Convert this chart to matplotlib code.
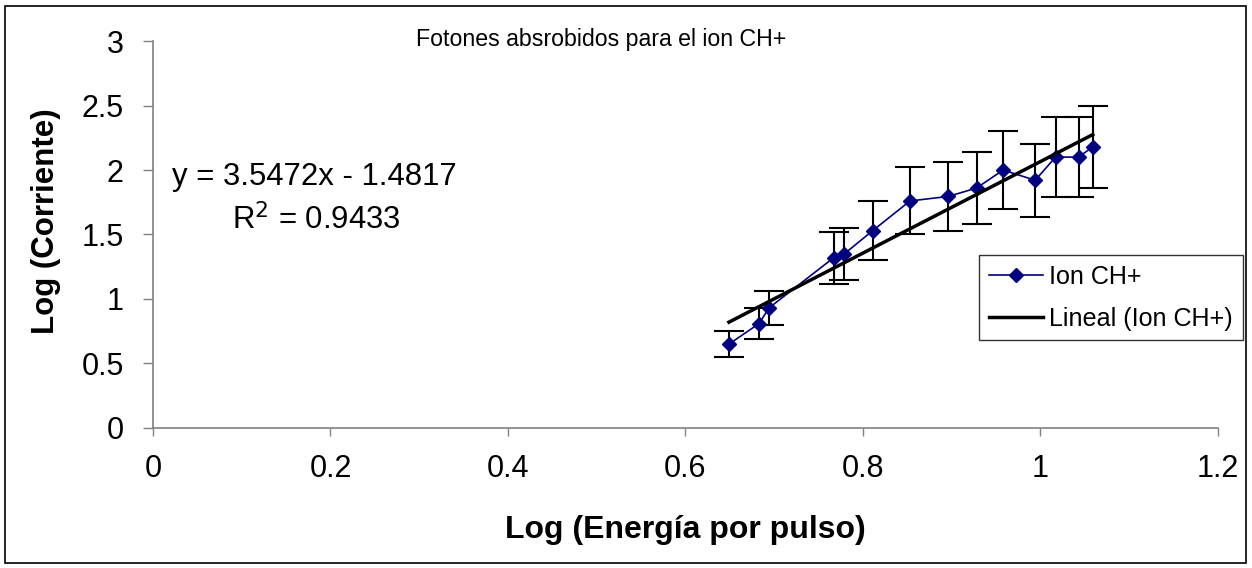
import matplotlib
matplotlib.use("Agg")
import matplotlib.pyplot as plt
import numpy as np
from matplotlib.patches import Rectangle

# Datos
log_energia = [0.649, 0.683, 0.694, 0.767, 0.779, 0.811, 0.853, 0.896, 0.928, 0.958, 0.994, 1.017, 1.043, 1.059]
log_corriente = [0.65, 0.81, 0.93, 1.32, 1.35, 1.53, 1.76, 1.795, 1.86, 2.00, 1.92, 2.10, 2.10, 2.18]
error = [0.10, 0.12, 0.13, 0.20, 0.20, 0.23, 0.26, 0.27, 0.28, 0.30, 0.285, 0.31, 0.31, 0.32]
pendiente = 3.5472
intercepto = -1.4817
r2 = 0.9433

x_ticks = [0, 0.2, 0.4, 0.6, 0.8, 1, 1.2]
x_ticklabels = ["0", "0.2", "0.4", "0.6", "0.8", "1", "1.2"]
y_ticks = [0, 0.5, 1, 1.5, 2, 2.5, 3]
y_ticklabels = ["0", "0.5", "1", "1.5", "2", "2.5", "3"]

plt.rcParams['font.family'] = ['Liberation Sans', 'DejaVu Sans']

fig = plt.figure(figsize=(12.52, 5.68), dpi=100)
ax = fig.add_axes([0.1222, 0.2465, 0.8506, 0.6813])

# borde exterior
fig.patches.append(Rectangle((0.004, 0.009), 0.991, 0.98, transform=fig.transFigure,
                             fill=False, edgecolor='black', linewidth=1.2))

ax.errorbar(log_energia, log_corriente, yerr=error, fmt='none', ecolor='black',
            elinewidth=1.5, capsize=11, capthick=1.5, zorder=2)
ax.plot(log_energia, log_corriente, color='#000080', linewidth=1.2, marker='D',
        markersize=7, markerfacecolor='#000080', markeredgecolor='#000080',
        label='Ion CH+', zorder=3)

xf = np.array([min(log_energia), max(log_energia)])
ax.plot(xf, pendiente * xf + intercepto, color='black', linewidth=2.5,
        label='Lineal (Ion CH+)', zorder=4)

ax.set_xlim(0, 1.2)
ax.set_ylim(0, 3)
ax.set_xticks(x_ticks)
ax.set_xticklabels(x_ticklabels)
ax.set_yticks(y_ticks)
ax.set_yticklabels(y_ticklabels)
ax.tick_params(axis='both', labelsize=22, direction='out', width=1, color='#808080')
ax.tick_params(axis='x', pad=13, length=6)
ax.tick_params(axis='y', pad=14, length=7)
for s in ['top', 'right']:
    ax.spines[s].set_visible(False)
for s in ['left', 'bottom']:
    ax.spines[s].set_color('#808080')
    ax.spines[s].set_linewidth(1.2)

ax.set_xlabel("Log (Energía por pulso)", fontsize=23, fontweight='bold')
ax.set_ylabel("Log (Corriente)", fontsize=22.5, fontweight='bold')
ax.xaxis.set_label_coords(0.5, -0.2636)
ax.xaxis.label.set_verticalalignment('center')
ax.yaxis.set_label_coords(-0.1, 0.5336)
ax.yaxis.label.set_verticalalignment('center')

fig.text(0.48, 0.931, "Fotones absrobidos para el ion CH+", fontsize=16.7,
         ha='center', va='center')

fig.text(0.2514, 0.688, "y = 3.5472x - 1.4817", fontsize=22.4, ha='center', va='center')
fig.text(0.2524, 0.613, "R$^2$ = 0.9433", fontsize=22.4, ha='center', va='center')

leg = fig.legend(loc='upper left', bbox_to_anchor=(0.782, 0.551), fontsize=18.1,
                 frameon=True, fancybox=False, edgecolor='black', borderpad=0.38,
                 handlelength=2.15, handletextpad=0.27, labelspacing=0.72, borderaxespad=0)
leg.get_frame().set_linewidth(1.0)

fig.savefig("out.png", dpi=100, facecolor='white')
